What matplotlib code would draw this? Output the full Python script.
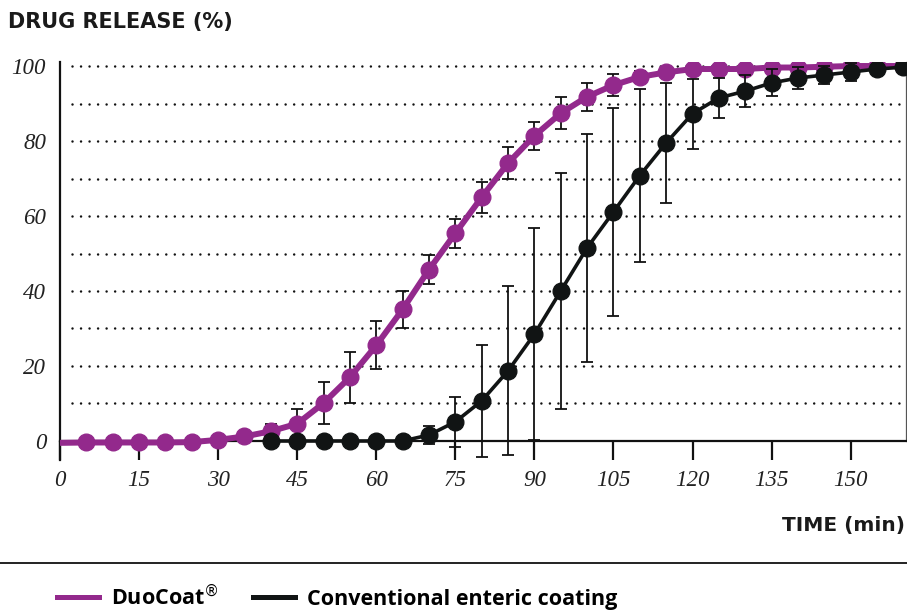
import numpy as np
import matplotlib
matplotlib.use("Agg")
import matplotlib.pyplot as plt
from matplotlib.lines import Line2D

# ---------------- data ----------------
time_duo = list(range(0, 165, 5))
duo = [-0.5, -0.4, -0.4, -0.4, -0.4, -0.3, 0.3, 1.2, 2.6, 4.6, 10.1, 17.0, 25.5,
       35.1, 45.7, 55.4, 65.0, 74.1, 81.4, 87.4, 91.8, 94.9, 97.1, 98.3, 99.2,
       99.2, 99.2, 99.6, 99.6, 99.8, 100.0, 100.0, 100.0]
duo_err = [0, 0, 0, 0, 0, 0, 0, 0.8, 2.0, 4.0, 5.5, 6.8, 6.4,
           5.0, 3.8, 3.8, 4.1, 4.3, 3.8, 4.3, 3.8, 3.0, 1.5, 1.0, 0.5,
           0.5, 0.5, 0.5, 0.5, 0.5, 0.5, 0.5, 0.5]

time_conv = list(range(40, 165, 5))
conv = [0, 0, 0, 0, 0, 0, 1.6, 5.1, 10.7, 18.7, 28.5, 40.0, 51.5, 61.1, 70.8,
        79.5, 87.3, 91.5, 93.3, 95.5, 96.8, 97.6, 98.4, 99.2, 99.7]
conv_err = [0, 0, 0, 0, 0, 0, 2.3, 6.7, 15.0, 22.5, 28.2, 31.5, 30.5, 27.7, 23.0,
            16.0, 9.3, 5.4, 4.2, 3.6, 3.0, 2.4, 2.5, 1.0, 0.5]

x_ticks = [0, 15, 30, 45, 60, 75, 90, 105, 120, 135, 150]
y_ticks = [0, 20, 40, 60, 80, 100]
grid_levels = [10, 20, 30, 40, 50, 60, 70, 80, 90, 100]

series_names = ["DuoCoat$^{\\circledR}$", "Conventional enteric coating"]

PURPLE = "#93298C"
BLACK = "#111414"
W, H = 907, 610

plt.rcParams["mathtext.fontset"] = "dejavusans"

fig = plt.figure(figsize=(W / 100, H / 100), dpi=100)
ax = fig.add_axes([60 / W, 150 / H, 846 / W, 398 / H])
ax.set_xlim(0, 160.5)
ax.set_ylim(-5.07, 101.07)

# dotted grid
for lv in grid_levels:
    ax.plot([2.2, 160.5], [lv, lv], color="#111111", lw=1.8,
            linestyle=(0, (0.01, 3.4)), dash_capstyle="round", zorder=1)

# DuoCoat
td = np.array(time_duo); yd = np.array(duo); ed = np.array(duo_err)
ax.plot(td, yd, color=PURPLE, lw=4.3, zorder=3, solid_capstyle="round")
m = ed > 0
ax.errorbar(td[m], yd[m], yerr=ed[m], fmt="none", ecolor="#111111",
            elinewidth=1.3, capsize=4, capthick=1.3, zorder=4)
ax.plot(td[1:], yd[1:], linestyle="none", marker="o", ms=12,
        color=PURPLE, zorder=5)

# Conventional
tc = np.array(time_conv); yc = np.array(conv); ec = np.array(conv_err)
ax.plot(tc, yc, color=BLACK, lw=2.6, zorder=6)
m = ec > 0
ax.errorbar(tc[m], yc[m], yerr=ec[m], fmt="none", ecolor="#111111",
            elinewidth=1.3, capsize=4, capthick=1.3, zorder=7)
ax.plot(tc, yc, linestyle="none", marker="o", ms=12, color=BLACK, zorder=8)

# spines
ax.spines["top"].set_visible(False)
ax.spines["left"].set_linewidth(1.6)
ax.spines["left"].set_color("#111111")
ax.spines["bottom"].set_position(("data", 0))
ax.spines["bottom"].set_linewidth(1.6)
ax.spines["bottom"].set_color("#111111")
ax.spines["right"].set_bounds(0, 101.07)
ax.spines["right"].set_linewidth(0.9)
ax.spines["right"].set_color("#555555")

ax.set_xticks(x_ticks)
ax.set_xticklabels([str(v) for v in x_ticks])
ax.set_yticks(y_ticks)
ax.set_yticklabels([str(v) for v in y_ticks])
ax.tick_params(axis="x", direction="out", length=13.7, width=1.6,
               color="#111111", pad=7)
ax.tick_params(axis="y", length=0, pad=10)
for lab in ax.get_xticklabels() + ax.get_yticklabels():
    lab.set_family("Liberation Serif")
    lab.set_style("italic")
    lab.set_fontsize(16.5)
    lab.set_color("#222222")

fig.text(8 / W, 1 - 22 / H, "DRUG RELEASE (%)", ha="left", va="center",
         family="DejaVu Sans", weight="bold", fontsize=15, color="#1a1a1a")
fig.text(905 / W, 1 - 525 / H, "TIME (min)", ha="right", va="center",
         family="DejaVu Sans", weight="bold", fontsize=14.5, color="#1a1a1a")

fig.add_artist(Line2D([0, 1], [1 - 563 / H, 1 - 563 / H],
                      transform=fig.transFigure, color="#222222", lw=1.4))

handles = [Line2D([], [], color=PURPLE, lw=3.6),
           Line2D([], [], color=BLACK, lw=3.6)]
leg = fig.legend(handles, series_names, loc="center left",
                 bbox_to_anchor=(57 / W, 1 - 597 / H), ncol=2, frameon=False,
                 borderpad=0, borderaxespad=0, handlelength=1.95,
                 handletextpad=0.55, columnspacing=1.6,
                 prop={"family": "Open Sans", "weight": "bold", "size": 15.5})

fig.savefig("out.png", dpi=100)
